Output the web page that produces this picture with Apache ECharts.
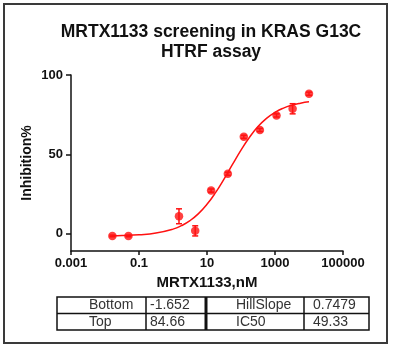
<!DOCTYPE html>
<html>
<head>
<meta charset="utf-8">
<script src="https://cdn.jsdelivr.net/npm/echarts@6/dist/echarts.min.js"></script>
<style>
html,body{margin:0;padding:0;background:#fff;}
#chart{width:394px;height:350px;}
</style>
</head>
<body>
<div id="chart"></div>
<script>
// ---- data ----
const titleLines = ['MRTX1133 screening in KRAS G13C', 'HTRF assay'];
const xAxisName = 'MRTX1133,nM';
const yAxisName = 'Inhibition%';
const xTicks = [0.001, 0.1, 10, 1000, 100000];
const xTickLabels = ['0.001', '0.1', '10', '1000', '100000'];
const yTicks = [0, 50, 100];

// measured points (nM, % inhibition, error)
const conc = [0.0165, 0.049, 1.5, 4.5, 13.2, 41, 121, 360, 1110, 3300, 10000];
const inhibition = [-1.5, -1.5, 10.9, 1.7, 27.1, 37.7, 61, 65.3, 74.5, 78.7, 88.2];
const errorBar = [0.5, 0.5, 4.7, 3.2, 1, 1, 1, 1, 1, 3.2, 1];

// fitted curve
const curveX = [0.0165, 0.0316, 0.1, 0.316, 1, 1.78, 3.16, 5.62, 10, 17.8, 31.6, 56.2, 100, 178, 316, 562, 1000, 1778, 3162, 5623, 10000];
const curveY = [-1.43, -1.30, -0.82, 0.28, 2.78, 4.99, 8.15, 12.56, 18.43, 25.79, 34.40, 43.62, 52.66, 60.74, 67.45, 72.62, 76.44, 79.13, 80.98, 82.23, 83.07];

// fit parameter table
const tableRow1 = ['Bottom', '-1.652', 'HillSlope', '0.7479'];
const tableRow2 = ['Top', '84.66', 'IC50', '49.33'];

// ---- build ----
const RED = '#ff1111';
const chart = echarts.init(document.getElementById('chart'), null, {renderer: 'canvas'});

const pts = conc.map((c, i) => [c, inhibition[i]]);
const errs = conc.map((c, i) => [c, inhibition[i] - errorBar[i], inhibition[i] + errorBar[i]]);
const curve = curveX.map((c, i) => [c, curveY[i]]);

// table geometry
const tX = [57, 146, 206, 304, 369];
const tY = [297, 313.5, 330];
const textX = [89, 150, 236, 313];
const tableGraphics = [];
tableGraphics.push({type: 'rect', shape: {x: tX[0], y: tY[0], width: tX[4] - tX[0], height: tY[2] - tY[0]},
  style: {fill: 'none', stroke: '#111', lineWidth: 1.5}});
tableGraphics.push({type: 'line', shape: {x1: tX[0], y1: tY[1], x2: tX[4], y2: tY[1]}, style: {stroke: '#111', lineWidth: 1.5}});
[1, 3].forEach(k => tableGraphics.push({type: 'line', shape: {x1: tX[k], y1: tY[0], x2: tX[k], y2: tY[2]}, style: {stroke: '#111', lineWidth: 1.5}}));
tableGraphics.push({type: 'line', shape: {x1: tX[2], y1: tY[0], x2: tX[2], y2: tY[2]}, style: {stroke: '#111', lineWidth: 3}});
[tableRow1, tableRow2].forEach((row, r) => {
  row.forEach((txt, c) => {
    tableGraphics.push({type: 'text', x: textX[c], y: (tY[r] + tY[r + 1]) / 2,
      style: {text: txt, fill: '#333', font: '14px "Liberation Sans", Arial, sans-serif', verticalAlign: 'middle', align: 'left'}});
  });
});

const option = {
  backgroundColor: '#fff',
  animation: false,
  title: {
    text: titleLines.join('\n'),
    left: 206, top: 17, textAlign: 'center',
    textStyle: {fontFamily: '"Liberation Sans", Arial, sans-serif', fontWeight: 'bold', fontSize: 17.5, lineHeight: 20, color: '#111'}
  },
  grid: {left: 71, right: 51, top: 75, bottom: 99, containLabel: false, outerBoundsMode: 'none'},
  xAxis: {
    type: 'log', logBase: 10, min: 0.001, max: 100000,
    name: xAxisName, nameLocation: 'middle', nameGap: 24,
    nameTextStyle: {fontFamily: '"Liberation Sans", Arial, sans-serif', fontWeight: 'bold', fontSize: 15, color: '#111'},
    axisLine: {show: true, onZero: false, lineStyle: {color: '#111', width: 1.5}},
    axisTick: {show: true, length: 4, inside: false, lineStyle: {color: '#111', width: 1.5}, customValues: xTicks},
    minorTick: {show: false},
    splitLine: {show: false},
    axisLabel: {customValues: xTicks, margin: 6, fontFamily: '"Liberation Sans", Arial, sans-serif', fontWeight: 'bold', fontSize: 13, color: '#111',
      formatter: v => { const i = xTicks.findIndex(t => Math.abs(Math.log10(t) - Math.log10(v)) < 1e-6); return i >= 0 ? xTickLabels[i] : ''; }}
  },
  yAxis: {
    type: 'value', min: -11, max: 100,
    name: yAxisName, nameLocation: 'middle', nameGap: 37, nameRotate: 90, nameMoveOverlap: false,
    nameTextStyle: {fontFamily: '"Liberation Sans", Arial, sans-serif', fontWeight: 'bold', fontSize: 14, color: '#111'},
    axisLine: {show: true, onZero: false, lineStyle: {color: '#111', width: 1.5}},
    axisTick: {show: true, length: 5, inside: false, lineStyle: {color: '#111', width: 1.5}, customValues: yTicks},
    splitLine: {show: false},
    axisLabel: {customValues: yTicks, margin: 8, fontFamily: '"Liberation Sans", Arial, sans-serif', fontWeight: 'bold', fontSize: 13, color: '#111'}
  },
  series: [
    {
      type: 'line', data: curve, smooth: true, showSymbol: false, symbol: 'none',
      lineStyle: {color: RED, width: 1.5}, z: 2, silent: true
    },
    {
      type: 'custom', data: errs, z: 3,
      renderItem: (params, api) => {
        const x = api.value(0);
        const lo = api.coord([x, api.value(1)]);
        const hi = api.coord([x, api.value(2)]);
        const w = 3;
        const st = {stroke: RED, lineWidth: 1.5};
        return {type: 'group', children: [
          {type: 'line', shape: {x1: lo[0], y1: lo[1], x2: hi[0], y2: hi[1]}, style: st},
          {type: 'line', shape: {x1: lo[0] - w, y1: lo[1], x2: lo[0] + w, y2: lo[1]}, style: st},
          {type: 'line', shape: {x1: hi[0] - w, y1: hi[1], x2: hi[0] + w, y2: hi[1]}, style: st}
        ]};
      }
    },
    {
      type: 'scatter', data: pts, symbol: 'circle', symbolSize: 8.5, z: 4,
      itemStyle: {color: RED}
    }
  ],
  graphic: [
    {type: 'rect', shape: {x: 4, y: 4, width: 383, height: 339}, style: {fill: 'none', stroke: '#3a3a3a', lineWidth: 2}, z: 100}
  ].concat(tableGraphics)
};
chart.setOption(option);
</script>
</body>
</html>
